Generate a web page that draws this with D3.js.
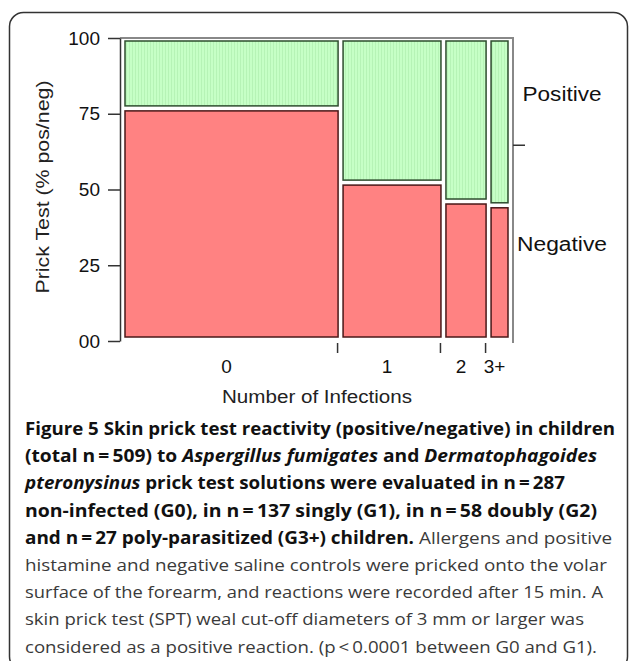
<!DOCTYPE html>
<html>
<head>
<meta charset="utf-8">
<title>Figure 5 - Skin prick test mosaic</title>
<style>
	body { margin: 0; background: #fff; }
	svg { display: block; }
	.tick text { font-family: "Liberation Sans", Arial, sans-serif; }
</style>
<script src="https://cdn.jsdelivr.net/npm/d3@7"></script>
</head>
<body>
<div id="chart"></div>
<script>
// groups on the x axis, width share (% of children) read from the tile widths
var groups = ["0", "1", "2", "3+"];
var groupShare = [57.9, 26.6, 10.9, 4.6];
// % negative prick test in each group (red part of the column)
var negativePct = [77.7, 52.2, 45.7, 44.4];
var yTicks = [0, 25, 50, 75, 100];
var yTickLabels = ["00", "25", "50", "75", "100"];
var outcomeLabels = ["Positive", "Negative"];

// caption: [text, style] runs, with the right end of each line
var captionLines = [
	[[["Figure 5 Skin prick test reactivity (positive/negative) in children", "b"]], 615],
	[[["(total n\u2009=\u2009509) to ", "b"], ["Aspergillus fumigates", "bi"], [" and ", "b"], ["Dermatophagoides", "bi"]], 597],
	[[["pteronysinus", "bi"], [" prick test solutions were evaluated in n\u2009=\u2009287", "b"]], 565],
	[[["non-infected (G0), in n\u2009=\u2009137 singly (G1), in n\u2009=\u200958 doubly (G2)", "b"]], 597],
	[[["and n\u2009=\u200927 poly-parasitized (G3+) children.", "b"], [" Allergens and positive", "r"]], 612],
	[[["histamine and negative saline controls were pricked onto the volar", "r"]], 607],
	[[["surface of the forearm, and reactions were recorded after 15 min. A", "r"]], 603],
	[[["skin prick test (SPT) weal cut-off diameters of 3 mm or larger was", "r"]], 584],
	[[["considered as a positive reaction. (p\u2009<\u20090.0001 between G0 and G1).", "r"]], 597]
];

var W = 629, H = 661;
var svg = d3.select("#chart").append("svg")
	.attr("width", W)
	.attr("height", H);

var defs = svg.append("defs");
var pat = defs.append("pattern")
	.attr("id", "greenStripe")
	.attr("patternUnits", "userSpaceOnUse")
	.attr("width", 3)
	.attr("height", 3);
pat.append("rect").attr("width", 3).attr("height", 3).attr("fill", "#c6ffc6");
pat.append("rect").attr("width", 1).attr("height", 3).attr("fill", "#b6f3b6");

// outer rounded frame
svg.append("rect")
	.attr("x", 9.5).attr("y", 12.5)
	.attr("width", 618).attr("height", 658)
	.attr("rx", 14).attr("ry", 14)
	.attr("fill", "none")
	.attr("stroke", "#333")
	.attr("stroke-width", 1.5);

var plot = {left: 120, right: 513, top: 38, bottom: 341};
var y = d3.scaleLinear().domain([0, 100]).range([plot.bottom, plot.top]);

// tile area inside the frame
var gapX = 5, gapY = 5;
var tileLeft = 125, tileRight = 508, tileTop = 41, tileBottom = 337;
var xIn = d3.scaleLinear().domain([0, 100])
	.range([tileLeft, tileRight - gapX * (groups.length - 1)]);
var yIn = d3.scaleLinear().domain([0, 100]).range([tileBottom, tileTop + gapY]);

var data = [], cum = 0;
groups.forEach(function(g, i) {
	var x0 = xIn(cum) + gapX * i;
	var w = xIn(groupShare[i]) - xIn(0);
	data.push({group: g, x: x0, w: w, neg: negativePct[i]});
	cum += groupShare[i];
});

var overallNeg = d3.sum(data, function(d, i) { return d.neg * groupShare[i]; }) / d3.sum(groupShare);

// frame lines top and right
svg.append("path")
	.attr("d", "M" + plot.left + "," + plot.top + "H" + plot.right + "V" + (plot.bottom + 2))
	.attr("fill", "none")
	.attr("stroke", "#888")
	.attr("stroke-width", 2);

// tiles
var g = svg.append("g");
g.selectAll(".neg")
	.data(data)
	.enter().append("rect")
		.attr("class", "neg")
		.attr("x", function(d) { return d.x; })
		.attr("y", function(d) { return yIn(d.neg); })
		.attr("width", function(d) { return d.w; })
		.attr("height", function(d) { return tileBottom - yIn(d.neg); })
		.attr("fill", "#ff8282")
		.attr("stroke", "#4a1818")
		.attr("stroke-width", 1.5);

g.selectAll(".pos")
	.data(data)
	.enter().append("rect")
		.attr("class", "pos")
		.attr("x", function(d) { return d.x; })
		.attr("y", tileTop)
		.attr("width", function(d) { return d.w; })
		.attr("height", function(d) { return yIn(d.neg) - gapY - tileTop; })
		.attr("fill", "url(#greenStripe)")
		.attr("stroke", "#2e4d2e")
		.attr("stroke-width", 1.5);

// y axis
var yAxis = svg.append("g")
	.attr("transform", "translate(" + plot.left + ",0)")
	.call(d3.axisLeft(y)
		.tickValues(yTicks)
		.tickFormat(function(d, i) { return yTickLabels[i]; })
		.tickSize(12)
		.tickSizeOuter(0)
		.tickPadding(8));
yAxis.select(".domain").attr("stroke", "#333").attr("stroke-width", 1.5);
yAxis.selectAll(".tick line").attr("stroke", "#333").attr("stroke-width", 1.5);
yAxis.selectAll(".tick text")
	.attr("fill", "#111")
	.style("font-size", "19px");

svg.append("text")
	.attr("transform", "translate(49,187) rotate(-90)")
	.attr("text-anchor", "middle")
	.attr("textLength", 213)
	.attr("lengthAdjust", "spacingAndGlyphs")
	.style("font", "19px 'Liberation Sans', Arial, sans-serif")
	.attr("fill", "#222")
	.text("Prick Test (% pos/neg)");

// x ticks at column boundaries, labels at column middles
svg.selectAll(".xtick")
	.data(data.slice(0, data.length - 1))
	.enter().append("line")
		.attr("class", "xtick")
		.attr("x1", function(d) { return d.x + d.w - 0.5; })
		.attr("x2", function(d) { return d.x + d.w - 0.5; })
		.attr("y1", 343).attr("y2", 353)
		.attr("stroke", "#333")
		.attr("stroke-width", 1.5);

svg.selectAll(".xlab")
	.data(data)
	.enter().append("text")
		.attr("class", "xlab")
		.attr("x", function(d) { return d.x + d.w / 2 - 5; })
		.attr("y", 373)
		.attr("text-anchor", "middle")
		.style("font", "19px 'Liberation Sans', Arial, sans-serif")
		.attr("fill", "#111")
		.text(function(d) { return d.group; });

svg.append("text")
	.attr("x", 317).attr("y", 403)
	.attr("text-anchor", "middle")
	.attr("textLength", 190)
	.attr("lengthAdjust", "spacingAndGlyphs")
	.style("font", "18px 'Liberation Sans', Arial, sans-serif")
	.attr("fill", "#222")
	.text("Number of Infections");

// right side: marginal split tick and outcome labels
svg.append("line")
	.attr("x1", plot.right).attr("x2", plot.right + 12)
	.attr("y1", yIn(overallNeg)).attr("y2", yIn(overallNeg))
	.attr("stroke", "#333")
	.attr("stroke-width", 1.5);

var outY = [(tileTop + yIn(overallNeg) - gapY) / 2 + 3, (yIn(overallNeg) + tileBottom) / 2 + 3];
svg.selectAll(".outlab")
	.data(outcomeLabels)
	.enter().append("text")
		.attr("class", "outlab")
		.attr("x", 562)
		.attr("y", function(d, i) { return outY[i]; })
		.attr("dy", "0.35em")
		.attr("text-anchor", "middle")
		.attr("textLength", function(d, i) { return i === 0 ? 79 : 90; })
		.attr("lengthAdjust", "spacingAndGlyphs")
		.style("font", "20px 'Liberation Sans', Arial, sans-serif")
		.attr("fill", "#111")
		.text(function(d) { return d; });

// caption
var cap = svg.append("g")
	.style("font-family", "'Open Sans', 'Noto Sans', sans-serif")
	.style("font-size", "17px");

captionLines.forEach(function(line, i) {
	var t = cap.append("text")
		.attr("x", 25)
		.attr("y", 435 + i * 27.2)
		.attr("textLength", line[1] - 25)
		.attr("lengthAdjust", "spacingAndGlyphs");
	line[0].forEach(function(run) {
		t.append("tspan")
			.attr("font-weight", run[1] === "r" ? 400 : 700)
			.attr("font-style", run[1] === "bi" ? "italic" : "normal")
			.attr("fill", run[1] === "r" ? "#3a3a3a" : "#111")
			.text(run[0]);
	});
});
</script>
</body>
</html>
